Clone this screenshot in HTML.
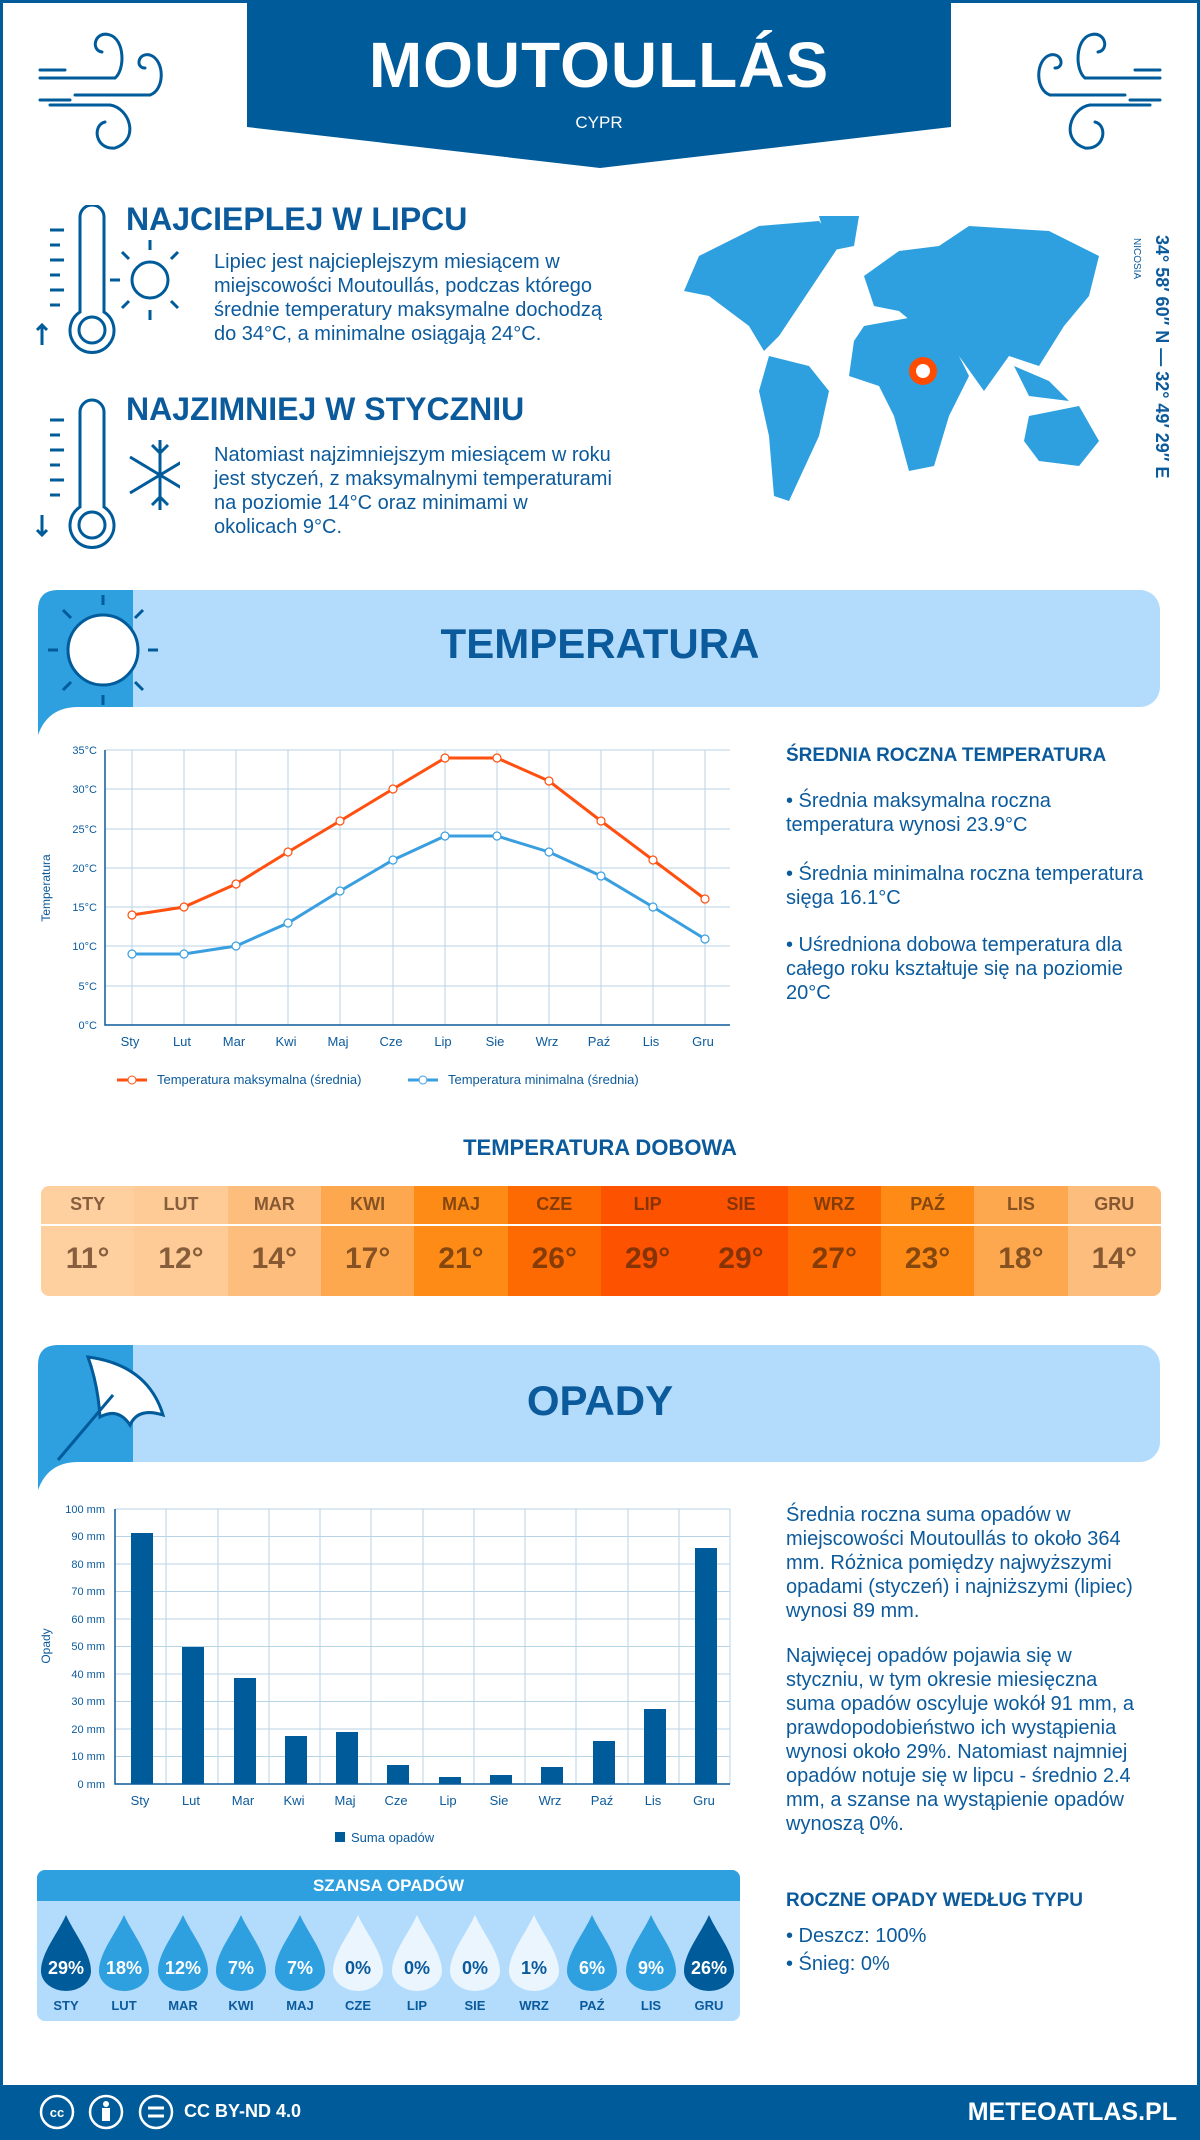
<!DOCTYPE html>
<html><head><meta charset="utf-8">
<style>
*{margin:0;padding:0;box-sizing:border-box}
body{width:1200px;height:2140px;position:relative;background:#fff;font-family:"Liberation Sans",sans-serif;color:#0b5a9c;overflow:hidden}
.a{position:absolute}
.frame{position:absolute;left:0;top:0;width:1200px;height:2140px;border:3px solid #005b9a;border-bottom:none}
h2{position:absolute;font-size:32px;font-weight:bold;color:#0b5a9c;white-space:nowrap}
.p{position:absolute;font-size:20px;line-height:24px;color:#0b5a9c}
.banner{position:absolute;left:38px;width:1122px;height:117px;background:#b3dcfc;border-radius:20px}
.bt{position:absolute;width:1200px;left:0;text-align:center;font-size:42px;font-weight:bold;color:#0b5a9c}
</style></head><body>
<div class="frame"></div>
<svg class="a" style="left:0;top:0" width="1200" height="175">
<polygon points="247,0 951,0 951,127 600,168 247,127" fill="#005b9a"/>
<g fill="none" stroke="#005b9a" stroke-width="3" stroke-linecap="round">
<path d="M40,70 H65 M40,78 H115 M75,95 H150 M40,100 H70 M50,105 H110"/>
<path d="M115,78 C125,70 125,40 110,35 C95,30 90,50 102,52"/>
<path d="M150,95 C165,90 165,60 150,55 C138,52 135,68 145,68"/>
<path d="M110,105 C130,108 140,140 115,148 C95,150 92,125 105,122"/>
<path d="M1160,70 H1135 M1160,78 H1085 M1125,95 H1050 M1160,100 H1130 M1150,105 H1090"/>
<path d="M1085,78 C1075,70 1075,40 1090,35 C1105,30 1110,50 1098,52"/>
<path d="M1050,95 C1035,90 1035,60 1050,55 C1062,52 1065,68 1055,68"/>
<path d="M1090,105 C1070,108 1060,140 1085,148 C1105,150 1108,125 1095,122"/>
</g></svg>
<div class="a" style="left:247px;width:704px;top:28px;text-align:center;font-size:64px;font-weight:bold;color:#fff;letter-spacing:1px">MOUTOULLÁS</div>
<div class="a" style="left:247px;width:704px;top:113px;text-align:center;font-size:17px;color:#fff">CYPR</div>

<svg class="a" style="left:30px;top:205px" width="150" height="360">
<g fill="none" stroke="#005b9a" stroke-width="3">
<path d="M50,12 a12,12 0 0 1 24,0 v95 a22,22 0 1 1 -24,0 z"/>
<circle cx="62" cy="125" r="13"/>
<path d="M20,25 h14 M20,40 h10 M20,55 h14 M20,70 h10 M20,85 h14 M20,100 h10 M12,140 v-20 m-5,5 l5,-5 5,5"/>
<circle cx="120" cy="75" r="18"/>
<path d="M120,45 v-10 M120,105 v10 M90,75 h-10 M150,75 h10 M99,54 l-7,-7 M141,54 l7,-7 M99,96 l-7,7 M141,96 l7,7"/>
<path d="M50,207 a12,12 0 0 1 24,0 v95 a22,22 0 1 1 -24,0 z"/>
<circle cx="62" cy="320" r="13"/>
<path d="M20,215 h14 M20,230 h10 M20,245 h14 M20,260 h10 M20,275 h14 M20,290 h10 M12,310 v20 m-5,-5 l5,5 5,-5"/>
<path d="M130,235 v70 M100,252 l60,36 M100,288 l60,-36 M122,240 l8,8 8,-8 M122,300 l8,-8 8,8"/>
</g></svg>
<h2 style="left:126px;top:201px">NAJCIEPLEJ W LIPCU</h2>
<div class="p" style="left:214px;top:250px;width:405px">Lipiec jest najcieplejszym miesiącem w miejscowości Moutoullás, podczas którego średnie temperatury maksymalne dochodzą do 34°C, a minimalne osiągają 24°C.</div>
<h2 style="left:126px;top:391px">NAJZIMNIEJ W STYCZNIU</h2>
<div class="p" style="left:214px;top:443px;width:400px">Natomiast najzimniejszym miesiącem w roku jest styczeń, z maksymalnymi temperaturami na poziomie 14°C oraz minimami w okolicach 9°C.</div>

<svg class="a" style="left:669px;top:216px" width="455" height="295">
<g fill="#2e9fdf">
<path d="M30,40 L90,10 L150,5 L170,30 L150,60 L130,90 L110,120 L95,135 L80,110 L60,95 L40,80 L15,75 Z"/>
<path d="M150,0 L190,0 L185,30 L160,35 Z"/>
<path d="M100,140 L140,150 L160,175 L150,220 L120,285 L105,280 L100,220 L90,175 Z"/>
<path d="M195,60 L230,35 L270,30 L300,10 L380,15 L430,40 L420,80 L395,110 L370,150 L340,140 L315,175 L290,140 L260,120 L230,95 L205,90 Z"/>
<path d="M195,110 L250,100 L285,130 L300,160 L280,200 L265,250 L240,255 L225,200 L210,170 L180,160 L185,125 Z"/>
<path d="M360,200 L410,190 L430,225 L410,250 L370,245 L355,225 Z"/>
<path d="M345,150 L380,165 L400,185 L360,180 Z"/>
</g>
<circle cx="254" cy="155" r="14" fill="#ff4c00"/><circle cx="254" cy="155" r="7" fill="#fff"/>
</svg>
<div class="a" style="left:1148px;top:235px;transform-origin:0 0;transform:rotate(90deg) translate(0,-24px);white-space:nowrap;font-size:18px;font-weight:bold">34° 58′ 60″ N — 32° 49′ 29″ E</div>
<div class="a" style="left:1130px;top:238px;transform-origin:0 0;transform:rotate(90deg) translate(0,-12px);white-space:nowrap;font-size:10px">NICOSIA</div>

<div class="banner" style="top:590px"></div>
<svg class="a" style="left:38px;top:590px" width="130" height="150">
<path d="M20,0 H95 V117 H40 Q10,117 0,145 V20 Q0,0 20,0 Z" fill="#2e9fdf"/>
<circle cx="65" cy="60" r="35" fill="#fff" stroke="#005b9a" stroke-width="3"/>
<g stroke="#005b9a" stroke-width="3"><path d="M65,5 v10 M65,105 v10 M10,60 h10 M110,60 h10 M25,20 l8,8 M105,20 l-8,8 M25,100 l8,-8 M105,100 l-8,-8"/></g>
</svg>
<div class="bt" style="top:620px">TEMPERATURA</div>

<svg class="a" style="left:0;top:730px" width="760" height="370" viewBox="0 730 760 370">
<g stroke="#b9d3e6" stroke-width="1">
<path d="M105,750H730M105,789H730M105,829H730M105,868H730M105,907H730M105,946H730M105,986H730"/>
<path d="M132,750V1025M184,750V1025M236,750V1025M288,750V1025M340,750V1025M393,750V1025M445,750V1025M497,750V1025M549,750V1025M601,750V1025M653,750V1025M705,750V1025"/>
</g>
<path d="M105,750V1025H730" fill="none" stroke="#0b5a9c" stroke-width="1.5"/>
<g font-size="11" fill="#0b5a9c" text-anchor="end">
<text x="97" y="754">35°C</text><text x="97" y="793">30°C</text><text x="97" y="833">25°C</text><text x="97" y="872">20°C</text><text x="97" y="911">15°C</text><text x="97" y="950">10°C</text><text x="97" y="990">5°C</text><text x="97" y="1029">0°C</text>
</g>
<text transform="translate(50,888) rotate(-90)" font-size="12" fill="#0b5a9c" text-anchor="middle">Temperatura</text>
<g font-size="13" fill="#0b5a9c" text-anchor="middle">
<text x="130" y="1046">Sty</text><text x="182" y="1046">Lut</text><text x="234" y="1046">Mar</text><text x="286" y="1046">Kwi</text><text x="338" y="1046">Maj</text><text x="391" y="1046">Cze</text><text x="443" y="1046">Lip</text><text x="495" y="1046">Sie</text><text x="547" y="1046">Wrz</text><text x="599" y="1046">Paź</text><text x="651" y="1046">Lis</text><text x="703" y="1046">Gru</text>
</g>
<polyline points="132,915 184,907 236,884 288,852 340,821 393,789 445,758 497,758 549,781 601,821 653,860 705,899" fill="none" stroke="#ff5010" stroke-width="3"/>
<polyline points="132,954 184,954 236,946 288,923 340,891 393,860 445,836 497,836 549,852 601,876 653,907 705,939" fill="none" stroke="#3a9fe0" stroke-width="3"/>
<g fill="#fff" stroke="#ff5010" stroke-width="1.2">
<circle cx="132" cy="915" r="4"/><circle cx="184" cy="907" r="4"/><circle cx="236" cy="884" r="4"/><circle cx="288" cy="852" r="4"/><circle cx="340" cy="821" r="4"/><circle cx="393" cy="789" r="4"/><circle cx="445" cy="758" r="4"/><circle cx="497" cy="758" r="4"/><circle cx="549" cy="781" r="4"/><circle cx="601" cy="821" r="4"/><circle cx="653" cy="860" r="4"/><circle cx="705" cy="899" r="4"/>
</g>
<g fill="#fff" stroke="#3a9fe0" stroke-width="1.2">
<circle cx="132" cy="954" r="4"/><circle cx="184" cy="954" r="4"/><circle cx="236" cy="946" r="4"/><circle cx="288" cy="923" r="4"/><circle cx="340" cy="891" r="4"/><circle cx="393" cy="860" r="4"/><circle cx="445" cy="836" r="4"/><circle cx="497" cy="836" r="4"/><circle cx="549" cy="852" r="4"/><circle cx="601" cy="876" r="4"/><circle cx="653" cy="907" r="4"/><circle cx="705" cy="939" r="4"/>
</g>
<path d="M117,1080H147" stroke="#ff5010" stroke-width="3"/><circle cx="132" cy="1080" r="4" fill="#fff" stroke="#ff5010"/>
<text x="157" y="1084" font-size="13" fill="#0b5a9c">Temperatura maksymalna (średnia)</text>
<path d="M408,1080H438" stroke="#3a9fe0" stroke-width="3"/><circle cx="423" cy="1080" r="4" fill="#fff" stroke="#3a9fe0"/>
<text x="448" y="1084" font-size="13" fill="#0b5a9c">Temperatura minimalna (średnia)</text>
</svg>

<div class="a" style="left:786px;top:745px;font-size:19px;font-weight:bold">ŚREDNIA ROCZNA TEMPERATURA</div>
<div class="p" style="left:786px;top:789px;width:360px">• Średnia maksymalna roczna temperatura wynosi 23.9°C</div>
<div class="p" style="left:786px;top:862px;width:360px">• Średnia minimalna roczna temperatura sięga 16.1°C</div>
<div class="p" style="left:786px;top:933px;width:360px">• Uśredniona dobowa temperatura dla całego roku kształtuje się na poziomie 20°C</div>

<div class="a" style="left:0;width:1200px;top:1135px;text-align:center;font-size:22px;font-weight:bold">TEMPERATURA DOBOWA</div>

<div class="a" style="left:41px;top:1186px;width:1120px;height:110px;border-radius:8px;overflow:hidden">
<div style="display:flex;height:110px">
<div style="flex:1;background:#fecf9f"></div><div style="flex:1;background:#fecb96"></div><div style="flex:1;background:#fdbd7d"></div><div style="flex:1;background:#fda84f"></div><div style="flex:1;background:#fd8b16"></div><div style="flex:1;background:#fd6a02"></div><div style="flex:1;background:#fd5200"></div><div style="flex:1;background:#fd5200"></div><div style="flex:1;background:#fd6a02"></div><div style="flex:1;background:#fd8b16"></div><div style="flex:1;background:#fda84f"></div><div style="flex:1;background:#fdbd7d"></div>
</div>
<div class="a" style="left:0;top:38px;width:1120px;height:1.5px;background:#fff"></div>
</div>
<div class="a" style="left:41px;top:1194px;width:1120px;display:flex;font-size:18px;font-weight:bold;color:rgba(70,35,10,0.65);text-align:center">
<div style="flex:1">STY</div><div style="flex:1">LUT</div><div style="flex:1">MAR</div><div style="flex:1">KWI</div><div style="flex:1">MAJ</div><div style="flex:1">CZE</div><div style="flex:1">LIP</div><div style="flex:1">SIE</div><div style="flex:1">WRZ</div><div style="flex:1">PAŹ</div><div style="flex:1">LIS</div><div style="flex:1">GRU</div>
</div>
<div class="a" style="left:41px;top:1242px;width:1120px;display:flex;font-size:30px;font-weight:bold;color:rgba(70,35,10,0.65);text-align:center">
<div style="flex:1">11°</div><div style="flex:1">12°</div><div style="flex:1">14°</div><div style="flex:1">17°</div><div style="flex:1">21°</div><div style="flex:1">26°</div><div style="flex:1">29°</div><div style="flex:1">29°</div><div style="flex:1">27°</div><div style="flex:1">23°</div><div style="flex:1">18°</div><div style="flex:1">14°</div>
</div>

<div class="banner" style="top:1345px"></div>
<svg class="a" style="left:38px;top:1345px" width="140" height="150">
<path d="M20,0 H95 V117 H40 Q10,117 0,145 V20 Q0,0 20,0 Z" fill="#2e9fdf"/>
<path d="M50,12 Q110,20 125,70 Q100,62 92,80 Q80,62 62,72 Q60,40 50,12 Z" fill="#fff" stroke="#005b9a" stroke-width="3"/>
<path d="M75,50 L20,115" stroke="#005b9a" stroke-width="3"/>
</svg>
<div class="bt" style="top:1377px">OPADY</div>

<svg class="a" style="left:0;top:1495px" width="760" height="360" viewBox="0 1495 760 360">
<g stroke="#b9d3e6" stroke-width="1">
<path d="M115,1509H730M115,1536.5H730M115,1564H730M115,1591.5H730M115,1619H730M115,1646.5H730M115,1674H730M115,1701.5H730M115,1729H730M115,1756.5H730"/>
<path d="M166,1509V1784M218,1509V1784M269,1509V1784M320,1509V1784M371,1509V1784M423,1509V1784M474,1509V1784M525,1509V1784M576,1509V1784M628,1509V1784M679,1509V1784M730,1509V1784"/>
</g>
<g fill="#005b9a">
<rect x="131" y="1533" width="22" height="251"/><rect x="182" y="1647" width="22" height="137"/><rect x="234" y="1678" width="22" height="106"/><rect x="285" y="1736" width="22" height="48"/><rect x="336" y="1732" width="22" height="52"/><rect x="387" y="1765" width="22" height="19"/><rect x="439" y="1777" width="22" height="7"/><rect x="490" y="1775" width="22" height="9"/><rect x="541" y="1767" width="22" height="17"/><rect x="593" y="1741" width="22" height="43"/><rect x="644" y="1709" width="22" height="75"/><rect x="695" y="1548" width="22" height="236"/>
</g>
<path d="M115,1509V1784H730" fill="none" stroke="#0b5a9c" stroke-width="1.5"/>
<g font-size="11" fill="#0b5a9c" text-anchor="end">
<text x="105" y="1513">100 mm</text><text x="105" y="1540">90 mm</text><text x="105" y="1568">80 mm</text><text x="105" y="1595">70 mm</text><text x="105" y="1623">60 mm</text><text x="105" y="1650">50 mm</text><text x="105" y="1678">40 mm</text><text x="105" y="1705">30 mm</text><text x="105" y="1733">20 mm</text><text x="105" y="1760">10 mm</text><text x="105" y="1788">0 mm</text>
</g>
<text transform="translate(50,1646) rotate(-90)" font-size="12" fill="#0b5a9c" text-anchor="middle">Opady</text>
<g font-size="13" fill="#0b5a9c" text-anchor="middle">
<text x="140" y="1805">Sty</text><text x="191" y="1805">Lut</text><text x="243" y="1805">Mar</text><text x="294" y="1805">Kwi</text><text x="345" y="1805">Maj</text><text x="396" y="1805">Cze</text><text x="448" y="1805">Lip</text><text x="499" y="1805">Sie</text><text x="550" y="1805">Wrz</text><text x="602" y="1805">Paź</text><text x="653" y="1805">Lis</text><text x="704" y="1805">Gru</text>
</g>
<rect x="335" y="1832" width="10" height="10" fill="#005b9a"/>
<text x="351" y="1842" font-size="13" fill="#0b5a9c">Suma opadów</text>
</svg>

<div class="p" style="left:786px;top:1503px;width:360px">Średnia roczna suma opadów w miejscowości Moutoullás to około 364 mm. Różnica pomiędzy najwyższymi opadami (styczeń) i najniższymi (lipiec) wynosi 89 mm.</div>
<div class="p" style="left:786px;top:1644px;width:360px">Najwięcej opadów pojawia się w styczniu, w tym okresie miesięczna suma opadów oscyluje wokół 91 mm, a prawdopodobieństwo ich wystąpienia wynosi około 29%. Natomiast najmniej opadów notuje się w lipcu - średnio 2.4 mm, a szanse na wystąpienie opadów wynoszą 0%.</div>

<div class="a" style="left:37px;top:1870px;width:703px;height:151px;background:#b3dcfc;border-radius:8px;overflow:hidden">
<div style="height:31px;background:#2e9fdf;color:#fff;font-weight:bold;font-size:17px;text-align:center;line-height:31px">SZANSA OPADÓW</div>
</div>
<svg class="a" style="left:0;top:1910px" width="760" height="110" viewBox="0 1910 760 110">
<defs><path id="d" d="M0,0 C8,18 25,38 25,56 A25,20 0 0 1 -25,56 C-25,38 -8,18 0,0 Z"/></defs>
<g>
<use href="#d" x="66" y="1915" fill="#005b9a"/><use href="#d" x="124" y="1915" fill="#2e9fdf"/><use href="#d" x="183" y="1915" fill="#2e9fdf"/><use href="#d" x="241" y="1915" fill="#2e9fdf"/><use href="#d" x="300" y="1915" fill="#2e9fdf"/><use href="#d" x="358" y="1915" fill="#eaf5fe"/><use href="#d" x="417" y="1915" fill="#eaf5fe"/><use href="#d" x="475" y="1915" fill="#eaf5fe"/><use href="#d" x="534" y="1915" fill="#eaf5fe"/><use href="#d" x="592" y="1915" fill="#2e9fdf"/><use href="#d" x="651" y="1915" fill="#2e9fdf"/><use href="#d" x="709" y="1915" fill="#005b9a"/>
</g>
<g font-size="18" font-weight="bold" text-anchor="middle">
<text x="66" y="1974" fill="#fff">29%</text><text x="124" y="1974" fill="#fff">18%</text><text x="183" y="1974" fill="#fff">12%</text><text x="241" y="1974" fill="#fff">7%</text><text x="300" y="1974" fill="#fff">7%</text><text x="358" y="1974" fill="#0b5a9c">0%</text><text x="417" y="1974" fill="#0b5a9c">0%</text><text x="475" y="1974" fill="#0b5a9c">0%</text><text x="534" y="1974" fill="#0b5a9c">1%</text><text x="592" y="1974" fill="#fff">6%</text><text x="651" y="1974" fill="#fff">9%</text><text x="709" y="1974" fill="#fff">26%</text>
</g>
<g font-size="13" font-weight="bold" text-anchor="middle" fill="#0b5a9c">
<text x="66" y="2010">STY</text><text x="124" y="2010">LUT</text><text x="183" y="2010">MAR</text><text x="241" y="2010">KWI</text><text x="300" y="2010">MAJ</text><text x="358" y="2010">CZE</text><text x="417" y="2010">LIP</text><text x="475" y="2010">SIE</text><text x="534" y="2010">WRZ</text><text x="592" y="2010">PAŹ</text><text x="651" y="2010">LIS</text><text x="709" y="2010">GRU</text>
</g>
</svg>

<div class="a" style="left:786px;top:1890px;font-size:19px;font-weight:bold">ROCZNE OPADY WEDŁUG TYPU</div>
<div class="p" style="left:786px;top:1924px">• Deszcz: 100%</div>
<div class="p" style="left:786px;top:1952px">• Śnieg: 0%</div>

<div class="a" style="left:0;top:2085px;width:1200px;height:55px;background:#005b9a"></div>
<svg class="a" style="left:38px;top:2093px" width="150" height="40">
<g fill="none" stroke="#fff" stroke-width="2.5"><circle cx="19" cy="19" r="16"/><circle cx="68" cy="19" r="16"/><circle cx="118" cy="19" r="16"/></g>
<text x="19" y="24" font-size="13" font-weight="bold" fill="#fff" text-anchor="middle">cc</text>
<circle cx="68" cy="11" r="3" fill="#fff"/><rect x="64" y="15" width="8" height="13" fill="#fff"/>
<path d="M110,15h16M110,23h16" stroke="#fff" stroke-width="3"/>
</svg>
<div class="a" style="left:184px;top:2101px;font-size:18px;font-weight:bold;color:#fff">CC BY-ND 4.0</div>
<div class="a" style="right:23px;top:2098px;font-size:25px;font-weight:bold;color:#fff">METEOATLAS.PL</div>
</body></html>
